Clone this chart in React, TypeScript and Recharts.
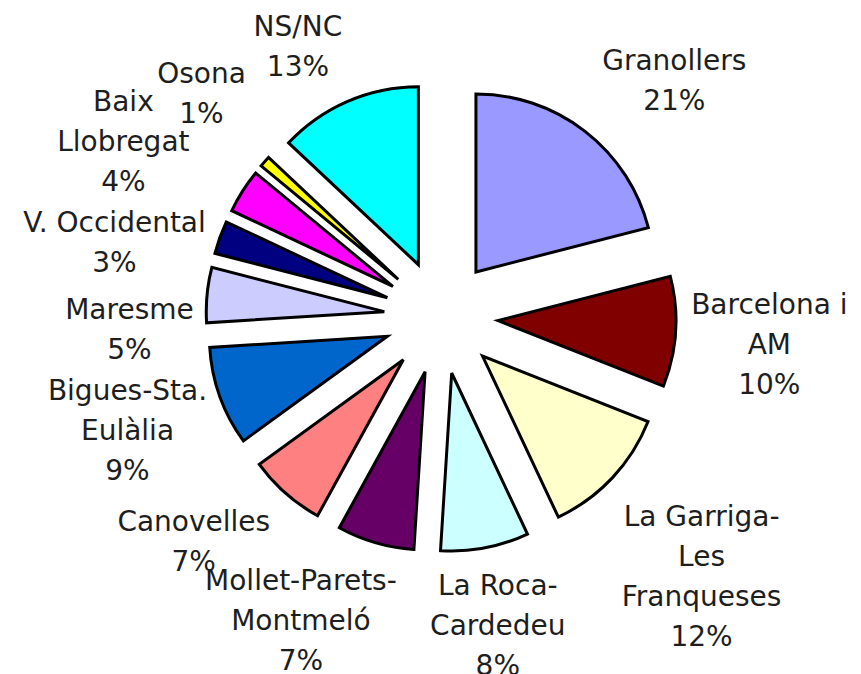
import React from 'react';
import { PieChart, Pie, Sector } from 'recharts';

// ---- data ----
const categories = [
  'Granollers',
  'Barcelona i AM',
  'La Garriga-Les Franqueses',
  'La Roca-Cardedeu',
  'Mollet-Parets-Montmeló',
  'Canovelles',
  'Bigues-Sta. Eulàlia',
  'Maresme',
  'V. Occidental',
  'Baix Llobregat',
  'Osona',
  'NS/NC',
];
const labelLines = [
  ['Granollers'],
  ['Barcelona i', 'AM'],
  ['La Garriga-', 'Les', 'Franqueses'],
  ['La Roca-', 'Cardedeu'],
  ['Mollet-Parets-', 'Montmeló'],
  ['Canovelles'],
  ['Bigues-Sta.', 'Eulàlia'],
  ['Maresme'],
  ['V. Occidental'],
  ['Baix', 'Llobregat'],
  ['Osona'],
  ['NS/NC'],
];
const shares = [21, 10, 12, 8, 7, 7, 9, 5, 3, 4, 1, 13];

// ---- style / layout ----
const COLORS = [
  '#9999FF', '#800000', '#FFFFCC', '#CCFFFF', '#660066', '#FF8080',
  '#0066CC', '#CCCCFF', '#000080', '#FF00FF', '#FFFF00', '#00FFFF',
];
const LABEL_NUDGE: [number, number][] = [
  [31, 24], [-1, 6], [20, 33], [-5, -16], [-48, -14], [-29, -24],
  [-3, 1], [17, 43], [-16, 37], [-39, 1], [8, -6], [-12, 32],
];
const EXPLODE = 57;
const LABEL_R = 330;
const LINE_H = 40;
const FONT = 28;

const data = categories.map((name, i) => ({ name, value: shares[i] }));

const renderSlice = (props: any) => {
  const { cx, cy, midAngle, outerRadius, startAngle, endAngle, percent, index } = props;
  const rad = (-midAngle * Math.PI) / 180;
  const ox = Math.cos(rad) * EXPLODE;
  const oy = Math.sin(rad) * EXPLODE;
  const lx = cx + Math.cos(rad) * LABEL_R + LABEL_NUDGE[index][0];
  const ly = cy + Math.sin(rad) * LABEL_R + LABEL_NUDGE[index][1];
  const lines = [...labelLines[index], `${Math.round(percent * 100)}%`];
  const n = lines.length;
  return (
    <g key={`slice-${index}`}>
      <Sector
        cx={cx + ox}
        cy={cy + oy}
        innerRadius={0}
        outerRadius={outerRadius}
        startAngle={startAngle}
        endAngle={endAngle}
        fill={COLORS[index]}
        stroke="#000000"
        strokeWidth={3}
        strokeLinejoin="miter"
      />
      <text
        textAnchor="middle"
        fontFamily="'DejaVu Sans', Verdana, sans-serif"
        fontSize={FONT}
        fill="#1e1e1e"
      >
        {lines.map((t, i) => (
          <tspan key={i} x={lx} y={ly + (i - (n - 1) / 2) * LINE_H + 10}>
            {t}
          </tspan>
        ))}
      </text>
    </g>
  );
};

export default function App() {
  return (
    <div style={{ width: 853, height: 666, background: '#ffffff' }}>
      <PieChart width={853} height={666} margin={{ top: 0, right: 0, bottom: 0, left: 0 }}>
        <Pie
          data={data}
          dataKey="value"
          nameKey="name"
          cx={433}
          cy={309}
          innerRadius={0}
          outerRadius={178}
          startAngle={90}
          endAngle={-270}
          fill="none"
          stroke="none"
          labelLine={false}
          label={renderSlice}
          isAnimationActive={false}
        />
      </PieChart>
    </div>
  );
}
